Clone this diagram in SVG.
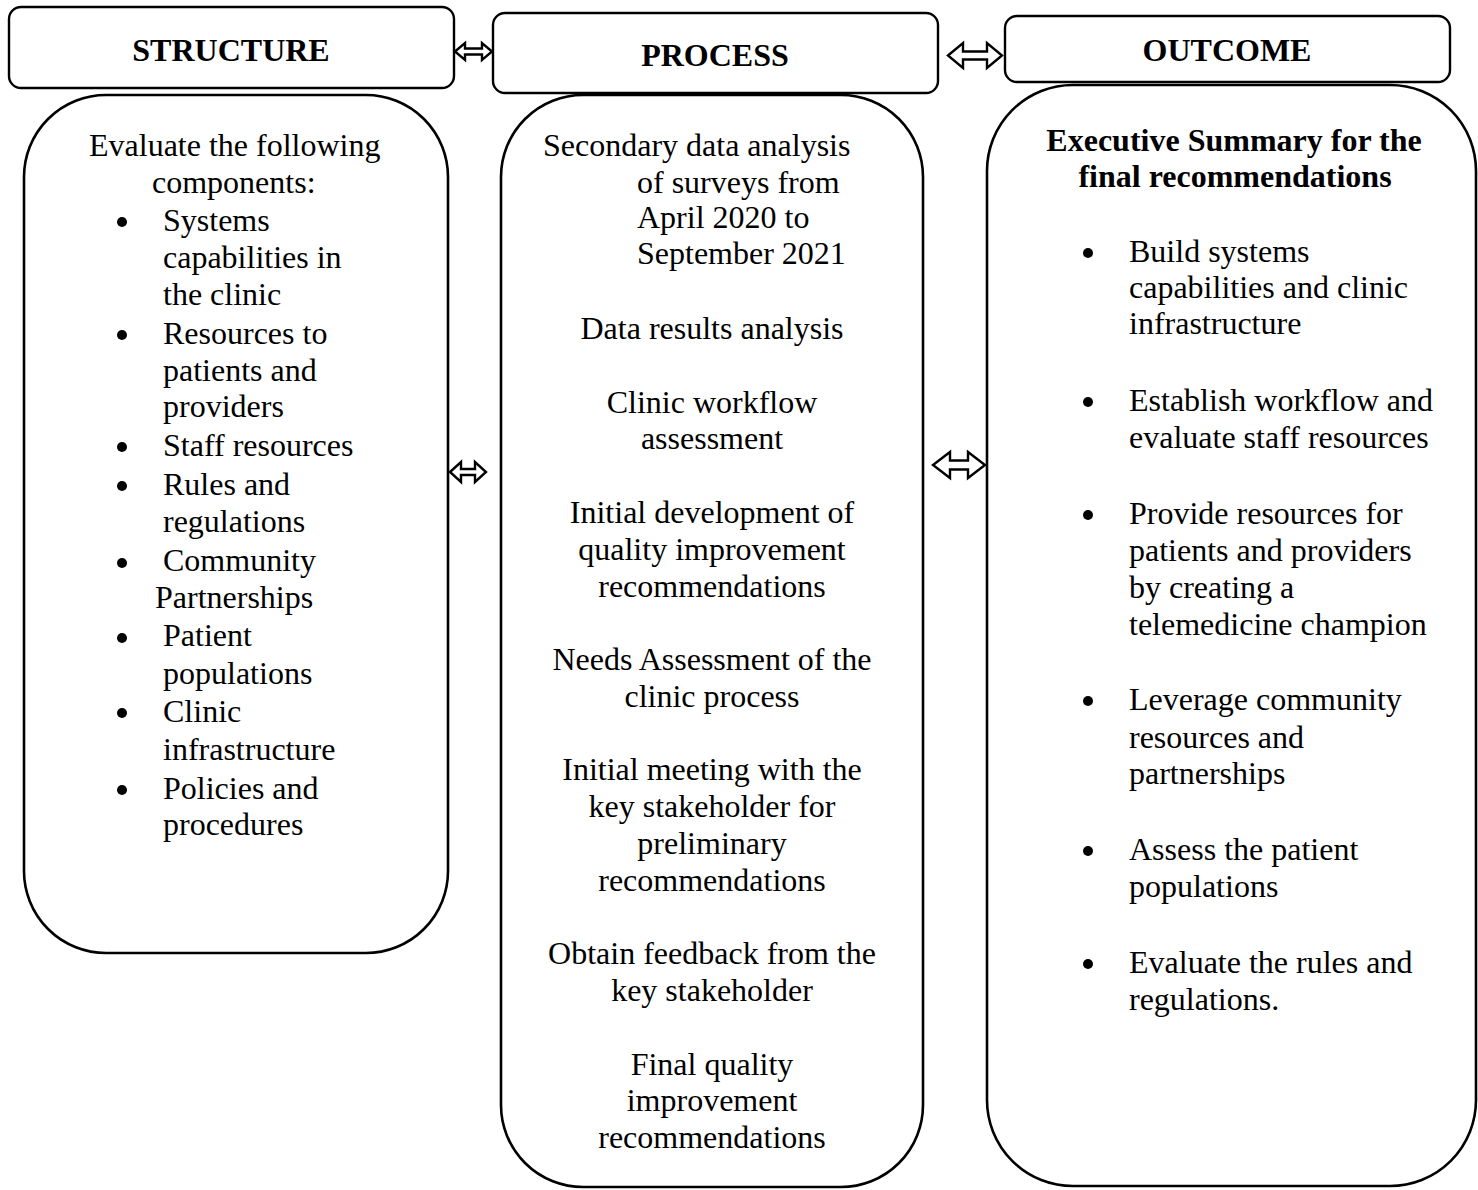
<svg xmlns="http://www.w3.org/2000/svg" width="1478" height="1190" viewBox="0 0 1478 1190">
<style>
.box{fill:#fff;stroke:#000;stroke-width:2.6}
.hdr{fill:#fff;stroke:#000;stroke-width:2.4}
.arr{fill:#fff;stroke:#000;stroke-width:2.4;stroke-linejoin:miter}
text{font-family:"Liberation Serif","Times New Roman",serif;font-size:32px;fill:#000}
.b{font-weight:bold}
.m{text-anchor:middle}
.dot{fill:#000}
</style>
<rect width="1478" height="1190" fill="#fff"/>
<g id="connectors">
<polygon class="arr" points="455,51.5 465,43 465,48.5 482,48.5 482,43 492,51.5 482,60 482,54.5 465,54.5 465,60"/>
<polygon class="arr" points="948,55.5 963,43 963,51.5 987,51.5 987,43 1002,55.5 987,68 987,59.5 963,59.5 963,68"/>
<polygon class="arr" points="450,472 461,462 461,469 475,469 475,462 486,472 475,482 475,475 461,475 461,482"/>
<polygon class="arr" points="933,465 950,452 950,460.5 968,460.5 968,452 985,465 968,478 968,469.5 950,469.5 950,478"/>
</g>
<g id="structure-header">
<rect class="hdr" x="9" y="7" width="445" height="81" rx="12"/>
<text class="b m" x="231" y="61">STRUCTURE</text>
</g>
<g id="process-header">
<rect class="hdr" x="493" y="13" width="445" height="80" rx="12"/>
<text class="b m" x="715" y="66">PROCESS</text>
</g>
<g id="outcome-header">
<rect class="hdr" x="1005" y="16" width="445" height="66" rx="12"/>
<text class="b m" x="1227" y="61">OUTCOME</text>
</g>
<g id="structure-body">
<rect class="box" x="24" y="95" width="424" height="858" rx="82"/>
<text x="89" y="156">Evaluate the following</text>
<text x="152" y="193">components:</text>
<circle class="dot" cx="122" cy="222" r="5"/><text x="163" y="231">Systems</text>
<text x="163" y="268">capabilities in</text>
<text x="163" y="305">the clinic</text>
<circle class="dot" cx="122" cy="335" r="5"/><text x="163" y="344">Resources to</text>
<text x="163" y="381">patients and</text>
<text x="163" y="417">providers</text>
<circle class="dot" cx="122" cy="447" r="5"/><text x="163" y="456">Staff resources</text>
<circle class="dot" cx="122" cy="486" r="5"/><text x="163" y="495">Rules and</text>
<text x="163" y="532">regulations</text>
<circle class="dot" cx="122" cy="563" r="5"/><text x="163" y="571">Community</text>
<text x="155" y="608">Partnerships</text>
<circle class="dot" cx="122" cy="638" r="5"/><text x="163" y="646">Patient</text>
<text x="163" y="684">populations</text>
<circle class="dot" cx="122" cy="713" r="5"/><text x="163" y="722">Clinic</text>
<text x="163" y="760">infrastructure</text>
<circle class="dot" cx="122" cy="790" r="5"/><text x="163" y="799">Policies and</text>
<text x="163" y="835">procedures</text>
</g>
<g id="process-body">
<rect class="box" x="501" y="95" width="422" height="1092" rx="82"/>
<text x="543" y="156">Secondary data analysis</text>
<text x="637" y="193">of surveys from</text>
<text x="637" y="228">April 2020 to</text>
<text x="637" y="264">September 2021</text>
<text class="m" x="712" y="339">Data results analysis</text>
<text class="m" x="712" y="413">Clinic workflow</text>
<text class="m" x="712" y="449">assessment</text>
<text class="m" x="712" y="523">Initial development of</text>
<text class="m" x="712" y="560">quality improvement</text>
<text class="m" x="712" y="597">recommendations</text>
<text class="m" x="712" y="670">Needs Assessment of the</text>
<text class="m" x="712" y="707">clinic process</text>
<text class="m" x="712" y="780">Initial meeting with the</text>
<text class="m" x="712" y="817">key stakeholder for</text>
<text class="m" x="712" y="854">preliminary</text>
<text class="m" x="712" y="891">recommendations</text>
<text class="m" x="712" y="964">Obtain feedback from the</text>
<text class="m" x="712" y="1001">key stakeholder</text>
<text class="m" x="712" y="1075">Final quality</text>
<text class="m" x="712" y="1111">improvement</text>
<text class="m" x="712" y="1148">recommendations</text>
</g>
<g id="outcome-body">
<rect class="box" x="987" y="85" width="489" height="1101" rx="86"/>
<text class="b m" x="1234" y="151">Executive Summary for the</text>
<text class="b m" x="1235" y="187">final recommendations</text>
<circle class="dot" cx="1088" cy="253" r="5"/><text x="1129" y="262">Build systems</text>
<text x="1129" y="298">capabilities and clinic</text>
<text x="1129" y="334">infrastructure</text>
<circle class="dot" cx="1088" cy="402" r="5"/><text x="1129" y="411">Establish workflow and</text>
<text x="1129" y="448">evaluate staff resources</text>
<circle class="dot" cx="1088" cy="515" r="5"/><text x="1129" y="524">Provide resources for</text>
<text x="1129" y="561">patients and providers</text>
<text x="1129" y="598">by creating a</text>
<text x="1129" y="635">telemedicine champion</text>
<circle class="dot" cx="1088" cy="701" r="5"/><text x="1129" y="710">Leverage community</text>
<text x="1129" y="748">resources and</text>
<text x="1129" y="784">partnerships</text>
<circle class="dot" cx="1088" cy="851" r="5"/><text x="1129" y="860">Assess the patient</text>
<text x="1129" y="897">populations</text>
<circle class="dot" cx="1088" cy="964" r="5"/><text x="1129" y="973">Evaluate the rules and</text>
<text x="1129" y="1010">regulations.</text>
</g>
</svg>
